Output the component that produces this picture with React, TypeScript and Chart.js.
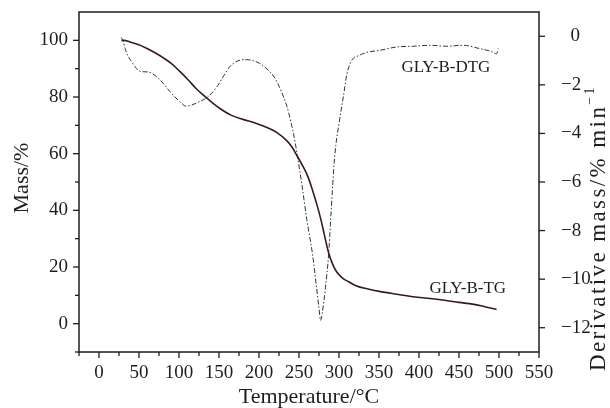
import { useEffect, useRef } from 'react';
import { Chart, registerables } from 'chart.js';

Chart.register(...registerables);

const SERIF = '"Liberation Serif", "Times New Roman", serif';
const INK = '#1e1e1e';

// Axis tick values
const TEMP_TICKS = [0, 50, 100, 150, 200, 250, 300, 350, 400, 450, 500, 550];
const MASS_TICKS = [0, 20, 40, 60, 80, 100];
const RATE_TICKS = [0, -2, -4, -6, -8, -10, -12];

// Thermogravimetric curve: temperature (°C) vs residual mass (%)
const TG_TEMP = [28, 31, 40, 49, 60, 70, 80, 91, 100, 111, 121, 132, 143, 153, 165, 180, 195, 210, 222, 235, 242, 248, 255, 261, 267, 273, 278, 282, 287, 292, 297, 304, 312, 322, 335, 352, 372, 393, 414, 434, 450, 467, 482, 497];
const TG_MASS = [100, 100, 99.3, 98.5, 97.1, 95.6, 93.9, 91.7, 89.3, 86.2, 83.1, 80.3, 77.7, 75.6, 73.6, 72.1, 70.8, 69.2, 67.5, 64.5, 62, 59, 55.5, 52, 47, 41.4, 36, 31, 25, 21, 18.3, 16.2, 14.8, 13.3, 12.3, 11.3, 10.4, 9.5, 8.9, 8.2, 7.5, 6.9, 6.0, 5.0];

// Derivative curve: temperature (°C) vs mass-loss rate (%/min)
const DTG_TEMP = [28, 30.6, 32.7, 36, 41, 45, 49, 55, 61.6, 70, 76, 82.4, 88, 95, 102, 109, 116, 124, 136, 148.7, 156, 163, 171, 182, 192, 200, 210, 219, 227, 235, 240, 244, 248, 254, 260, 267, 272, 275, 277, 279, 283, 287, 289.5, 292, 294, 296, 300, 306, 310, 316, 325, 335, 351, 372, 393, 414, 434, 455, 476, 490, 497, 499];
const DTG_RATE = [-0.05, -0.23, -0.51, -0.8, -1.06, -1.25, -1.4, -1.46, -1.47, -1.61, -1.78, -2.02, -2.25, -2.5, -2.72, -2.88, -2.83, -2.71, -2.5, -2.02, -1.62, -1.27, -1.05, -0.96, -1.0, -1.1, -1.35, -1.68, -2.2, -2.9, -3.55, -4.16, -4.92, -6.2, -7.6, -9.0, -10.36, -11.2, -11.7, -11.4, -10.36, -9.0, -7.6, -6.2, -5.2, -4.5, -3.6, -2.37, -1.54, -0.99, -0.79, -0.66, -0.58, -0.44, -0.41, -0.37, -0.41, -0.37, -0.51, -0.62, -0.72, -0.5];

const tgPoints = TG_TEMP.map((t, i) => ({ x: t, y: TG_MASS[i] }));
const dtgPoints = DTG_TEMP.map((t, i) => ({ x: t, y: DTG_RATE[i] }));

const minorsOf = (majors: number[], min: number, max: number) => {
  const step = majors[1] - majors[0];
  const out = [majors[0] - step / 2, ...majors.map((v) => v + step / 2)];
  return out.filter((v) => v >= Math.min(min, max) - 1e-9 && v <= Math.max(min, max) + 1e-9);
};

const minus = (v: number) => (v < 0 ? '\u2212' + Math.abs(v) : '\u2007' + v);

const framePlugin = {
  id: 'frameAndLabels',
  afterDraw(chart: any) {
    const { ctx, chartArea: a, scales } = chart;
    const line = (x1: number, y1: number, x2: number, y2: number) => {
      ctx.beginPath();
      ctx.moveTo(x1, y1);
      ctx.lineTo(x2, y2);
      ctx.stroke();
    };
    ctx.save();
    ctx.strokeStyle = INK;
    ctx.lineWidth = 1.5;
    ctx.strokeRect(a.left, a.top, a.right - a.left, a.bottom - a.top);

    // outward tick marks
    ctx.lineWidth = 1.3;
    TEMP_TICKS.forEach((v) => {
      const x = scales.x.getPixelForValue(v);
      line(x, a.bottom, x, a.bottom + 6);
    });
    minorsOf(TEMP_TICKS, -25, 550).forEach((v) => {
      const x = scales.x.getPixelForValue(v);
      line(x, a.bottom, x, a.bottom + 4);
    });
    MASS_TICKS.forEach((v) => {
      const y = scales.y.getPixelForValue(v);
      line(a.left, y, a.left - 6, y);
    });
    minorsOf(MASS_TICKS, -10, 105).forEach((v) => {
      const y = scales.y.getPixelForValue(v);
      line(a.left, y, a.left - 4, y);
    });
    RATE_TICKS.forEach((v) => {
      const y = scales.y2.getPixelForValue(v);
      line(a.right, y, a.right + 6, y);
    });

    // axis titles
    ctx.fillStyle = INK;
    ctx.textBaseline = 'alphabetic';
    ctx.font = `22px ${SERIF}`;
    ctx.textAlign = 'center';
    ctx.fillText('Temperature/°C', (a.left + a.right) / 2, 403);

    ctx.save();
    ctx.translate(28, 178);
    ctx.rotate(-Math.PI / 2);
    ctx.fillText('Mass/%', 0, 0);
    ctx.restore();

    ctx.save();
    ctx.translate(605, 228);
    ctx.rotate(-Math.PI / 2);
    ctx.font = `23px ${SERIF}`;
    (ctx as any).letterSpacing = '2.4px';
    const main = 'Derivative mass/% min';
    const mw = ctx.measureText(main).width;
    ctx.font = `14px ${SERIF}`;
    const sup = '\u22121';
    const sw = ctx.measureText(sup).width;
    const start = -(mw + sw) / 2;
    ctx.textAlign = 'left';
    ctx.font = `23px ${SERIF}`;
    ctx.fillText(main, start, 0);
    ctx.font = `14px ${SERIF}`;
    ctx.fillText(sup, start + mw, -11);
    ctx.restore();

    // curve labels
    ctx.font = `17px ${SERIF}`;
    ctx.textAlign = 'left';
    ctx.fillText('GLY-B-DTG', scales.x.getPixelForValue(378), scales.y2.getPixelForValue(-1.49));
    ctx.fillText('GLY-B-TG', scales.x.getPixelForValue(413), scales.y.getPixelForValue(10.9));
    ctx.restore();
  },
};

export default function App() {
  const canvasRef = useRef<HTMLCanvasElement | null>(null);

  useEffect(() => {
    const canvas = canvasRef.current;
    if (!canvas) return;
    const tickFont = { family: SERIF, size: 19 };
    const noPad = (s: any) => {
      s.paddingTop = 0;
      s.paddingBottom = 0;
      s.paddingLeft = 0;
      s.paddingRight = 0;
    };
    const chart = new Chart(canvas, {
      type: 'line',
      data: {
        datasets: [
          {
            label: 'GLY-B-TG',
            data: tgPoints,
            yAxisID: 'y',
            borderColor: '#3a1820',
            borderWidth: 1.6,
            pointRadius: 0,
            cubicInterpolationMode: 'monotone',
          },
          {
            label: 'GLY-B-DTG',
            data: dtgPoints,
            yAxisID: 'y2',
            borderColor: '#333333',
            borderWidth: 1,
            borderDash: [5, 2, 1.5, 2],
            pointRadius: 0,
            cubicInterpolationMode: 'monotone',
          },
        ],
      },
      options: {
        animation: false,
        responsive: false,
        devicePixelRatio: 1,
        layout: { padding: { top: 12, left: 0, right: 0, bottom: 0 } },
        plugins: { legend: { display: false }, tooltip: { enabled: false } },
        scales: {
          x: {
            type: 'linear',
            position: 'bottom',
            min: -25,
            max: 550,
            afterBuildTicks: (s: any) => {
              s.ticks = TEMP_TICKS.map((value) => ({ value }));
            },
            afterFit: (s: any) => {
              s.height = 56;
              noPad(s);
            },
            grid: { display: false, drawTicks: false },
            border: { display: false },
            ticks: { font: tickFont, color: INK, padding: 10, maxRotation: 0, autoSkip: false },
          },
          y: {
            type: 'linear',
            position: 'left',
            min: -10,
            max: 110,
            afterBuildTicks: (s: any) => {
              s.ticks = MASS_TICKS.map((value) => ({ value }));
            },
            afterFit: (s: any) => {
              s.width = 79;
              noPad(s);
            },
            grid: { display: false, drawTicks: false },
            border: { display: false },
            ticks: { font: tickFont, color: INK, padding: 11 },
          },
          y2: {
            type: 'linear',
            position: 'right',
            min: -13,
            max: 1,
            afterBuildTicks: (s: any) => {
              s.ticks = RATE_TICKS.map((value) => ({ value }));
            },
            afterFit: (s: any) => {
              s.width = 71;
              noPad(s);
            },
            grid: { display: false, drawTicks: false },
            border: { display: false },
            ticks: { font: tickFont, color: INK, padding: 22, callback: (v: any) => minus(Number(v)) },
          },
        },
      },
      plugins: [framePlugin],
    });
    return () => chart.destroy();
  }, []);

  return (
    <div style={{ position: 'fixed', left: 0, top: 0, width: 610, height: 408, background: '#fff' }}>
      <canvas ref={canvasRef} width={610} height={408} />
    </div>
  );
}
